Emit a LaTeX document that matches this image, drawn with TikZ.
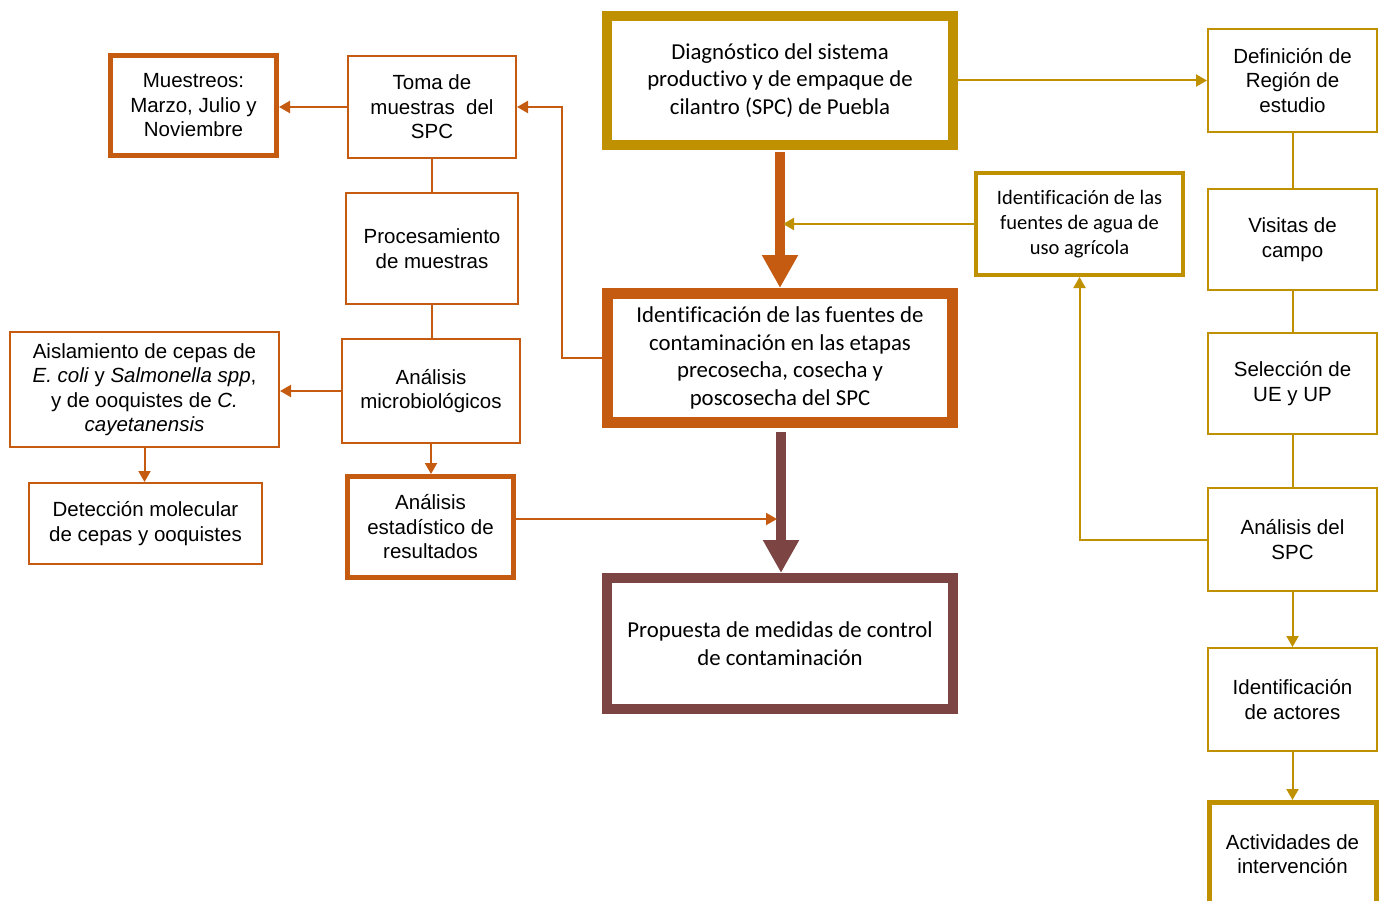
\documentclass[tikz,border=0pt]{standalone}
\usepackage{fontspec}
\setmainfont{Liberation Sans}
\newfontfamily\carlito[Ligatures=NoCommon]{Carlito}
\usetikzlibrary{arrows.meta}

\definecolor{naranja}{RGB}{197,90,17}
\definecolor{dorado}{RGB}{191,144,0}
\definecolor{cafe}{RGB}{124,68,66}

\tikzset{
	caja/.style={draw, rectangle, align=center, inner sep=0pt, fill=white,
		font=\fontsize{20.5}{24.5}\selectfont},
	central/.style={caja, line width=10pt, minimum width=346pt,
		font=\carlito\fontsize{22.8}{27.5}\selectfont},
	flecha/.style={-{Triangle[length=11pt,width=12pt]}, line width=2pt},
	gruesa/.style={-{Triangle[length=33pt,width=34pt]}, line width=10pt}
}

\begin{document}
\begin{tikzpicture}[x=1pt,y=-1pt]
	
	\useasboundingbox (0,0) rectangle (1380,901);
	
	% Cajas centrales
	\node[central, draw=dorado, minimum height=129pt] (diag) at (780,80.5)
		{Diagnóstico del sistema\\productivo y de empaque de\\cilantro (SPC) de Puebla};
	\node[central, draw=naranja, line width=11pt, minimum width=345pt, minimum height=129pt] (ident) at (780,358)
		{Identificación de las fuentes de\\contaminación en las etapas\\precosecha, cosecha y\\poscosecha del SPC};
	\node[central, draw=cafe, minimum height=131pt] (prop) at (780,643.5)
		{Propuesta de medidas de control\\de contaminación};
	
	% Fuentes de agua
	\node[caja, draw=dorado, line width=4pt, minimum width=207pt, minimum height=102pt,
		font=\carlito\fontsize{20.5}{25}\selectfont] (agua) at (1079.5,224)
		{Identificación de las\\fuentes de agua de\\uso agrícola};
	
	% Columna derecha
	\node[caja, draw=dorado, line width=2pt, minimum width=169pt, minimum height=103pt] (defin) at (1292.5,80.5)
		{Definición de\\Región de\\estudio};
	\node[caja, draw=dorado, line width=2pt, minimum width=169pt, minimum height=101pt] (visitas) at (1292.5,239.5)
		{Visitas de\\campo};
	\node[caja, draw=dorado, line width=2pt, minimum width=169pt, minimum height=101pt] (selec) at (1292.5,383.5)
		{Selección de\\UE y UP};
	\node[caja, draw=dorado, line width=2pt, minimum width=169pt, minimum height=103pt] (anaspc) at (1292.5,539.5)
		{Análisis del\\SPC};
	\node[caja, draw=dorado, line width=2pt, minimum width=169pt, minimum height=103pt] (actores) at (1292.5,699.5)
		{Identificación\\de actores};
	\node[caja, draw=dorado, line width=5pt, minimum width=167pt, minimum height=103pt] (activ) at (1292.5,854)
		{Actividades de\\intervención};
	
	% Columna izquierda
	\node[caja, draw=naranja, line width=2pt, minimum width=168pt, minimum height=102pt] (toma) at (432,107)
		{Toma de\\muestras\ \ del\\SPC};
	\node[caja, draw=naranja, line width=5pt, minimum width=166pt, minimum height=100pt] (muest) at (193.5,105.5)
		{Muestreos:\\Marzo, Julio y\\Noviembre};
	\node[caja, draw=naranja, line width=2pt, minimum width=172pt, minimum height=111pt] (proc) at (432,248.5)
		{Procesamiento\\de muestras};
	\node[caja, draw=naranja, line width=2pt, minimum width=178pt, minimum height=104pt] (micro) at (431,391)
		{Análisis\\microbiológicos};
	\node[caja, draw=naranja, line width=2pt, minimum width=269pt, minimum height=115pt] (aisl) at (144.5,389.5)
		{Aislamiento de cepas de\\\textit{E. coli} y \textit{Salmonella spp},\\y de ooquistes de \textit{C.}\\\textit{cayetanensis}};
	\node[caja, draw=naranja, line width=2pt, minimum width=233pt, minimum height=81pt] (detec) at (145.5,523.5)
		{Detección molecular\\de cepas y ooquistes};
	\node[caja, draw=naranja, line width=5pt, minimum width=166pt, minimum height=101pt] (estad) at (430.5,527)
		{Análisis\\estadístico de\\resultados};
	
	% Puntos libres sobre las flechas gruesas
	\coordinate (c1) at (783,224);
	\coordinate (c2) at (777,519);
	
	% Flechas gruesas
	\draw[gruesa, naranja] ([yshift=-2pt]diag.south) -- (ident.north);
	\draw[gruesa, cafe] ([xshift=1pt,yshift=-4pt]ident.south) -- ([xshift=1pt]prop.north);
	
	% Conectores dorados
	\draw[flecha, dorado] (diag.east) -- (defin.west);
	\draw[flecha, dorado] (agua.west) -- (c1);
	\draw[flecha, dorado] (anaspc.west) -| (agua.south);
	\draw[line width=2pt, dorado] (defin.south) -- (visitas.north);
	\draw[line width=2pt, dorado] (visitas.south) -- (selec.north);
	\draw[line width=2pt, dorado] (selec.south) -- (anaspc.north);
	\draw[flecha, dorado] (anaspc.south) -- (actores.north);
	\draw[flecha, dorado] (actores.south) -- (activ.north);
	
	% Conectores naranjas
	\draw[flecha, naranja] (ident.west) -- ++(-40,0) |- (toma.east);
	\draw[flecha, naranja] (toma.west) -- (toma.west -| muest.east);
	\draw[line width=2pt, naranja] (toma.south) -- (toma.south |- proc.north);
	\draw[line width=2pt, naranja] (proc.south) -- (proc.south |- micro.north);
	\draw[flecha, naranja] (micro.west) -- (micro.west -| aisl.east);
	\draw[flecha, naranja] (aisl.south) -- (aisl.south |- detec.north);
	\draw[flecha, naranja] (micro.south) -- (micro.south |- estad.north);
	\draw[flecha, naranja] (estad.east |- c2) -- (c2);
	
\end{tikzpicture}
\end{document}
